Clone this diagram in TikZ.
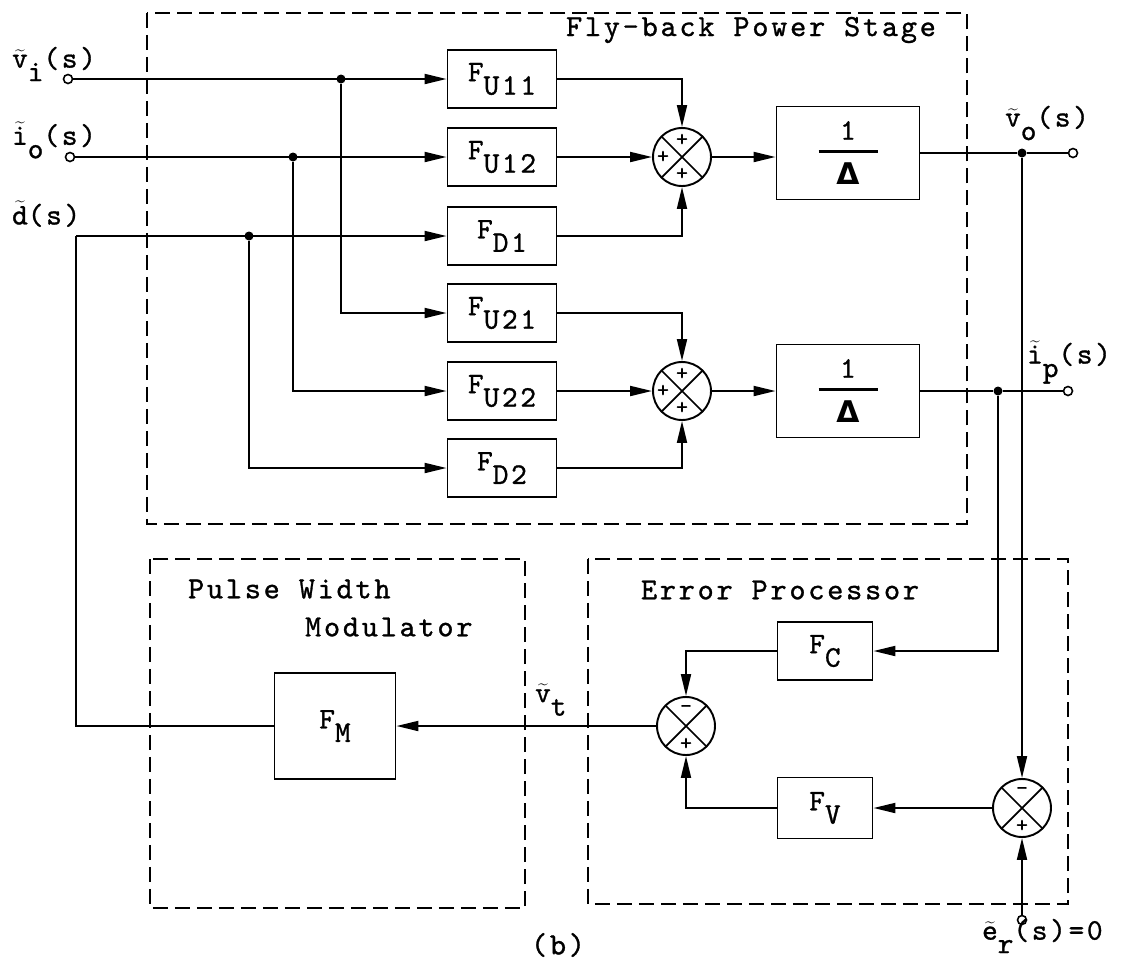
\documentclass[tikz,border=0pt]{standalone}
\usepackage{fontspec}
\setmonofont{lmmono10-regular.otf}[LetterSpace=9, FakeBold=1]
\newfontfamily\dltf{DejaVu Sans}
\usetikzlibrary{arrows.meta}
\newcommand\lblf{\ttfamily\fontsize{17}{19}\selectfont}
\newcommand\ttlf{\ttfamily\fontsize{17.5}{20}\selectfont}
\newcommand\sgnf{\ttfamily\fontsize{13}{13}\selectfont}
\newcommand\sub[1]{\raisebox{-0.45em}{#1}}
\newcommand\tld[1]{$\widetilde{\mbox{#1}}$}
\newcommand\frc{\shortstack[c]{1\\[3pt]\rule{1.18cm}{1.3pt}\\[3pt]{\dltf\bfseries Δ}}}
\tikzset{
  blk/.style    = {draw, line width=1.1pt, minimum width=2.18cm, minimum height=1.16cm,
                   inner sep=0pt, font=\lblf},
  bigblk/.style = {blk, minimum width=2.86cm, minimum height=1.86cm},
  sumj/.style   = {circle, draw, line width=1.1pt, minimum size=1.16cm, inner sep=0pt,
                   path picture={\draw[line width=1pt]
                     (path picture bounding box.north west) -- (path picture bounding box.south east)
                     (path picture bounding box.south west) -- (path picture bounding box.north east);}},
  sgn/.style    = {font=\sgnf, inner sep=0pt},
  term/.style   = {circle, draw, fill=white, line width=0.9pt, inner sep=0pt, minimum size=0.18cm},
  jdot/.style   = {circle, fill, inner sep=0pt, minimum size=0.18cm},
  flow/.style   = {-{Triangle[length=4.4mm, width=2mm]}, line width=1.1pt},
  wire/.style   = {line width=1.1pt},
  frame/.style  = {line width=1pt, dash pattern=on 0.3cm off 0.14cm},
  ttl/.style    = {font=\ttlf, inner sep=1pt},
  lbl/.style    = {font=\lblf, inner sep=1pt},
}
\begin{document}
\begin{tikzpicture}[x=0.02cm, y=-0.02cm]
  \useasboundingbox (0,0) rectangle (1137,964);

  % frames
  \draw[frame] (147,13) rectangle (967,524);
  \draw[frame] (150,559) rectangle (525,908);
  \draw[frame] (588,559) rectangle (1068,904);
  \node[ttl] (tfly) at (751,30) {Fly-back Power Stage};
  \node[ttl, anchor=west] (tpwm1) at (186,589) {Pulse Width};
  \node[ttl, anchor=west] (tpwm2) at (303,627) {Modulator};
  \node[ttl] (terr) at (780,590) {Error Processor};
  \node[ttl] (tcap) at (558,945) {(b)};

  % power stage blocks
  \node[blk] (fu11) at (502,79) {F\sub{U11}};
  \node[blk] (fu12) at (502,157) {F\sub{U12}};
  \node[blk] (fd1) at (502,236) {F\sub{D1}};
  \node[blk] (fu21) at (502,313) {F\sub{U21}};
  \node[blk] (fu22) at (502,391) {F\sub{U22}};
  \node[blk] (fd2) at (502,468) {F\sub{D2}};
  \node[sumj] (s1) at (682,157) {};
  \node[sumj] (s2) at (682,391) {};
  \node[bigblk] (inv1) at (848,153) {\frc};
  \node[bigblk] (inv2) at (848,391) {\frc};
  \node[sgn] (s1a) at ([yshift=0.34cm]s1.center) {+};
  \node[sgn] (s1b) at ([xshift=-0.38cm]s1.center) {+};
  \node[sgn] (s1c) at ([yshift=-0.34cm]s1.center) {+};
  \node[sgn] (s2a) at ([yshift=0.34cm]s2.center) {+};
  \node[sgn] (s2b) at ([xshift=-0.38cm]s2.center) {+};
  \node[sgn] (s2c) at ([yshift=-0.34cm]s2.center) {+};

  % inputs
  \node[term] (vi) at (68,79) {};
  \node[term] (io) at (70,157) {};
  \coordinate (dl) at (76,236);
  \node[lbl, anchor=west] (lvi) at (10,64) {\tld{v}\sub{i}(s)};
  \node[lbl, anchor=west] (lio) at (10,140) {\tld{i}\sub{o}(s)};
  \node[lbl, anchor=west] (ld) at (10,214) {\tld{d}(s)};
  \node[jdot] (jvi) at (341,79) {};
  \node[jdot] (jio) at (293,157) {};
  \node[jdot] (jd) at (249,236) {};
  \draw[flow] (vi) -- (fu11);
  \draw[flow] (io) -- (fu12);
  \draw[flow] (dl) -- (fd1);
  \draw[flow] (jvi) |- (fu21);
  \draw[flow] (jio) |- (fu22);
  \draw[flow] (jd) |- (fd2);
  \draw[flow] (fu11) -| (s1);
  \draw[flow] (fu12) -- (s1);
  \draw[flow] (fd1) -| (s1);
  \draw[flow] (fu21) -| (s2);
  \draw[flow] (fu22) -- (s2);
  \draw[flow] (fd2) -| (s2);
  \draw[flow] (s1.east) -- (s1.east -| inv1.west);
  \draw[flow] (s2) -- (inv2);

  % outputs
  \node[jdot] (jvo) at (1022,153) {};
  \node[term] (vo) at (1073,153) {};
  \node[jdot] (jip) at (998,391) {};
  \node[term] (ip) at (1068,391) {};
  \node[lbl, anchor=west] (lvo) at (1003,123) {\tld{v}\sub{o}(s)};
  \node[lbl, anchor=west] (lip) at (1025,362) {\tld{i}\sub{p}(s)};
  \draw[wire] (inv1) -- (jvo) -- (vo);
  \draw[wire] (inv2) -- (jip) -- (ip);

  % error processor and modulator
  \node[blk, minimum width=1.9cm] (fc) at (825,651) {F\sub{C}};
  \node[blk, minimum width=1.9cm, minimum height=1.22cm] (fv) at (825,808) {F\sub{V}};
  \node[sumj] (sl) at (686,726) {};
  \node[sumj] (sr) at (1022,808) {};
  \node[sgn] (sla) at ([yshift=0.34cm]sl.center) {-};
  \node[sgn] (slb) at ([yshift=-0.36cm]sl.center) {+};
  \node[sgn] (sra) at ([yshift=0.34cm]sr.center) {-};
  \node[sgn] (srb) at ([yshift=-0.36cm]sr.center) {+};
  \node[blk, minimum width=2.42cm, minimum height=2.12cm] (fm) at (335,726) {F\sub{M}};
  \node[term] (er) at (1022,920) {};
  \node[lbl, anchor=west] (ler) at (980,936) {\tld{e}\sub{r}(s)=0};
  \node[lbl, anchor=west] (lvt) at (533,700) {\tld{v}\sub{t}};
  \coordinate (dc) at (76,726);
  \draw[flow] (jip) |- (fc);
  \draw[flow] (fc) -| (sl);
  \draw[flow] (jvo) -- (sr);
  \draw[flow] (sr) -- (fv);
  \draw[flow] (fv) -| (sl);
  \draw[flow] (er) -- (sr);
  \draw[flow] (sl) -- (fm);
  \draw[wire] (fm) -- (dc) -- (dl);
\end{tikzpicture}
\end{document}
